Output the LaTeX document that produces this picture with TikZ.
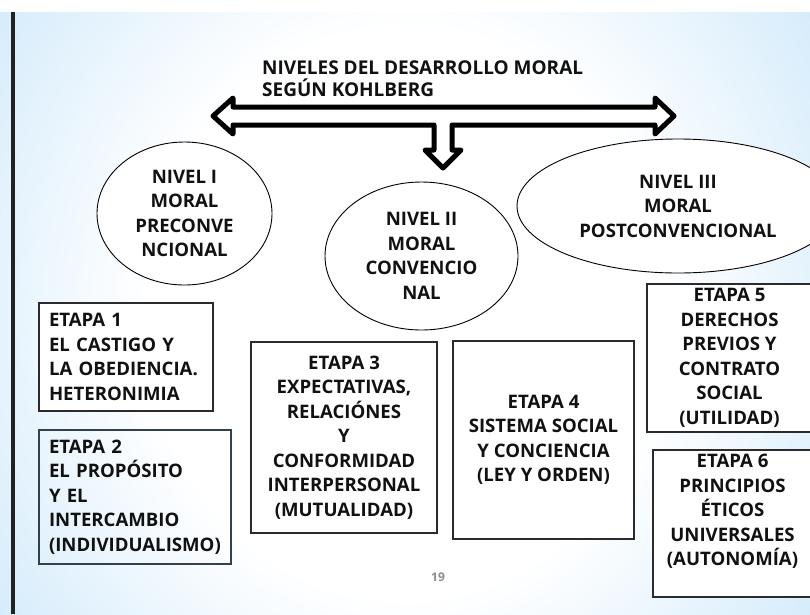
\documentclass[tikz,border=0pt]{standalone}
\usepackage{fontspec}
\setmainfont{Open Sans}
\usetikzlibrary{shapes.geometric}
\definecolor{bgblue}{HTML}{9ED2F6}
\definecolor{edge}{HTML}{2B2B2B}
\definecolor{edgeb}{HTML}{33414F}
\definecolor{barc}{HTML}{222222}
\definecolor{txt}{HTML}{111111}
\pgfdeclareradialshading{bgshade}{\pgfpoint{0bp}{0bp}}{color(0bp)=(white); color(16bp)=(white); color(50bp)=(bgblue); color(100bp)=(bgblue)}
\newcommand\stfont{\fontsize{18.6}{24.5}\selectfont\bfseries}
\newcommand\ttlfont{\fontsize{19}{22}\selectfont\bfseries}
\begin{document}
\begin{tikzpicture}[x=1pt,y=-1pt,
  lvl/.style={ellipse, draw=black, line width=0.9pt, fill=white, inner sep=-40pt, align=center, font=\stfont, text=txt},
  stagebox/.style={rectangle, draw=edge, line width=1.2pt, fill=white, inner sep=0pt, align=center, font=\stfont, text=txt},
  hollow/.style={draw=black, line width=5pt, line join=round, fill=white}
]
\useasboundingbox (0,0) rectangle (810,614);
\fill[white] (0,0) rectangle (810,614);
\begin{scope}
  \clip (0,12) rectangle (810,614);
  \shade[shading=bgshade] (0,-130) rectangle (810,756);
\end{scope}
\fill[barc] (11,12) rectangle (15,614);

% title
\node[anchor=west, align=left, font=\ttlfont, inner sep=0pt, text=txt] (title) at (262,79) {NIVELES DEL DESARROLLO MORAL\\SEGÚN KOHLBERG};

% hollow three-way arrow
\draw[hollow] (213,116) coordinate (tipL) -- (233,98) -- (233,107) -- (655,107) -- (655,98)
  -- (674,116) coordinate (tipR) -- (655,134) -- (655,125) -- (452,125) -- (452,150) -- (461,150)
  -- (443,168) coordinate (tipD) -- (425,150) -- (434,150) -- (434,125) -- (233,125) -- (233,134) -- cycle;

% levels
\node[lvl, minimum width=175pt, minimum height=143pt] (n1) at (184.5,213.5) {NIVEL I\\MORAL\\PRECONVE\\NCIONAL};
\node[lvl, minimum width=193pt, minimum height=148pt] (n2) at (421.5,256) {NIVEL II\\MORAL\\CONVENCIO\\NAL};
\node[lvl, minimum width=322pt, minimum height=134pt] (n3) at (678,206) {NIVEL III\\MORAL\\POSTCONVENCIONAL};

% stages
\node[stagebox, inner xsep=10pt, minimum width=174pt, minimum height=108pt, text width=154pt, align=left] (e1) at (126,357) {ETAPA 1\\EL CASTIGO Y\\LA OBEDIENCIA.\\HETERONIMIA};
\node[stagebox, fill=none, draw=edgeb, inner xsep=10pt, minimum width=192pt, minimum height=134pt, text width=172pt, align=left] (e2) at (135,497) {ETAPA 2\\EL PROPÓSITO\\Y EL\\INTERCAMBIO\\(INDIVIDUALISMO)};
\node[stagebox, minimum width=186pt, minimum height=191pt] (e3) at (344,437.5) {ETAPA 3\\EXPECTATIVAS,\\RELACIÓNES\\Y\\CONFORMIDAD\\INTERPERSONAL\\(MUTUALIDAD)};
\node[stagebox, minimum width=181pt, minimum height=198pt] (e4) at (543.5,440) {ETAPA 4\\SISTEMA SOCIAL\\Y CONCIENCIA\\(LEY Y ORDEN)};
\node[stagebox, minimum width=165pt, minimum height=148pt] (e5) at (729.5,358) {ETAPA 5\\DERECHOS\\PREVIOS Y\\CONTRATO\\SOCIAL\\(UTILIDAD)};
\node[stagebox, minimum width=159pt, minimum height=147pt, text depth=27pt] (e6) at (732.5,523.5) {ETAPA 6\\PRINCIPIOS\\ÉTICOS\\UNIVERSALES\\(AUTONOMÍA)};

% page number
\node[font=\fontsize{12}{14}\selectfont\bfseries, text=black!45] (pg) at (438,577) {19};
\end{tikzpicture}
\end{document}
